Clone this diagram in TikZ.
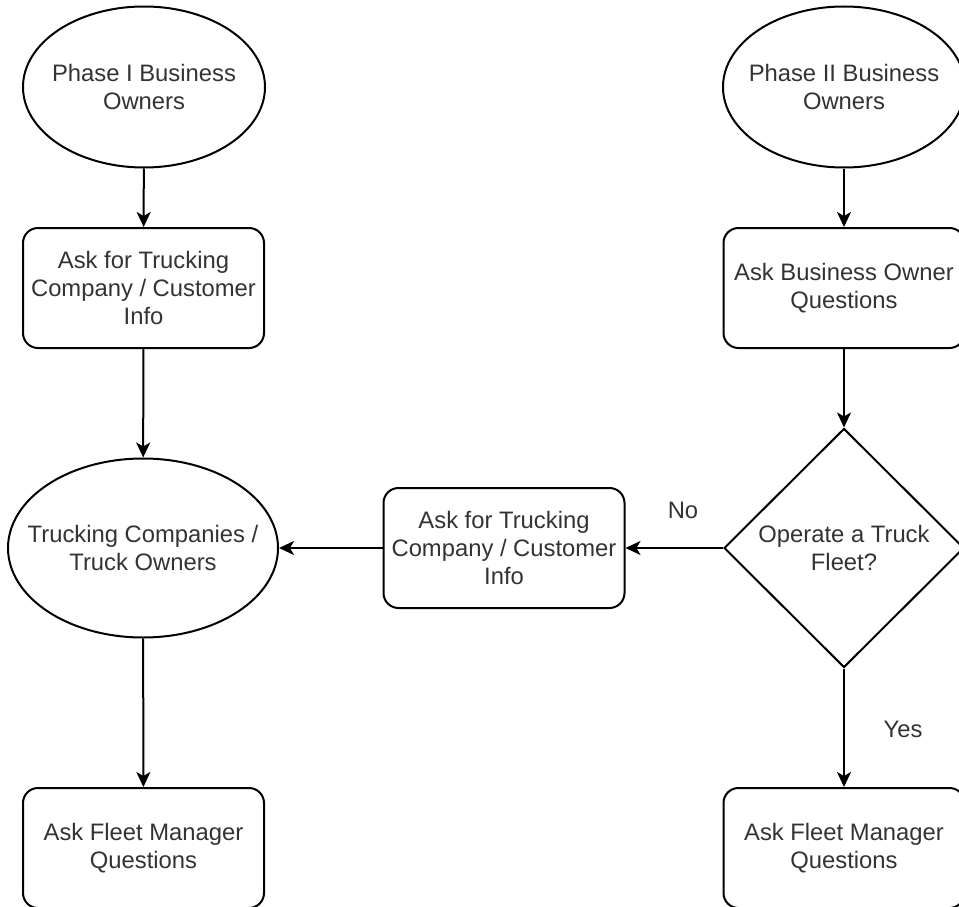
\documentclass[tikz,border=0pt]{standalone}
\usepackage{fontspec}
\setmainfont{Liberation Sans}
\usetikzlibrary{shapes.geometric,arrows.meta}
\definecolor{txt}{HTML}{333333}
\tikzset{
  txtstyle/.style={text=txt, font=\fontsize{23.8}{28}\selectfont, align=center, inner sep=0pt},
  base/.style={draw=black, line width=2pt, fill=white, inner sep=0pt, txtstyle},
  oval/.style={base, ellipse, minimum width=242pt, minimum height=161pt},
  bigoval/.style={base, ellipse, minimum width=270pt, minimum height=179pt},
  box/.style={base, rectangle, rounded corners=15pt, minimum width=241pt, minimum height=120pt},
  decide/.style={base, diamond, minimum width=240pt, minimum height=239pt},
  conn/.style={draw=black, line width=2pt, -{Stealth[length=15pt,width=14pt,inset=4pt]}},
  lbl/.style={txtstyle}
}
\begin{document}
\begin{tikzpicture}[x=1pt,y=-1pt]
\useasboundingbox (0,0) rectangle (959,907);
\fill[white] (0,0) rectangle (959,907);
\clip (0,0) rectangle (959,907);
\node[oval, label={[lbl]center:Phase I Business\\Owners}] (e1) at (144,87) {};
\node[box] (r1) at (143.5,288) {Ask for Trucking\\Company / Customer\\Info};
\node[bigoval, label={[lbl]center:Trucking Companies /\\Truck Owners}] (e2) at (143,548) {};
\node[box] (r2) at (143.5,848) {Ask Fleet Manager\\Questions};
\node[oval, label={[lbl]center:Phase II Business\\Owners}] (e3) at (844,87) {};
\node[box] (r3) at (844,288) {Ask Business Owner\\Questions};
\node[decide] (d) at (844,548) {Operate a Truck\\Fleet?};
\node[box] (m) at (504,548) {Ask for Trucking\\Company / Customer\\Info};
\node[box] (r4) at (844,848) {Ask Fleet Manager\\Questions};
\node[lbl] (no) at (683,510) {No};
\node[lbl] (yes) at (903,729) {Yes};
\draw[conn] (e1) -- (r1);
\draw[conn] (r1) -- (e2);
\draw[conn] (e2) -- (r2);
\draw[conn] (e3) -- (r3);
\draw[conn] (r3) -- (d);
\draw[conn] (d) -- (m);
\draw[conn] (m) -- (e2);
\draw[conn] (d) -- (r4);
\end{tikzpicture}
\end{document}
